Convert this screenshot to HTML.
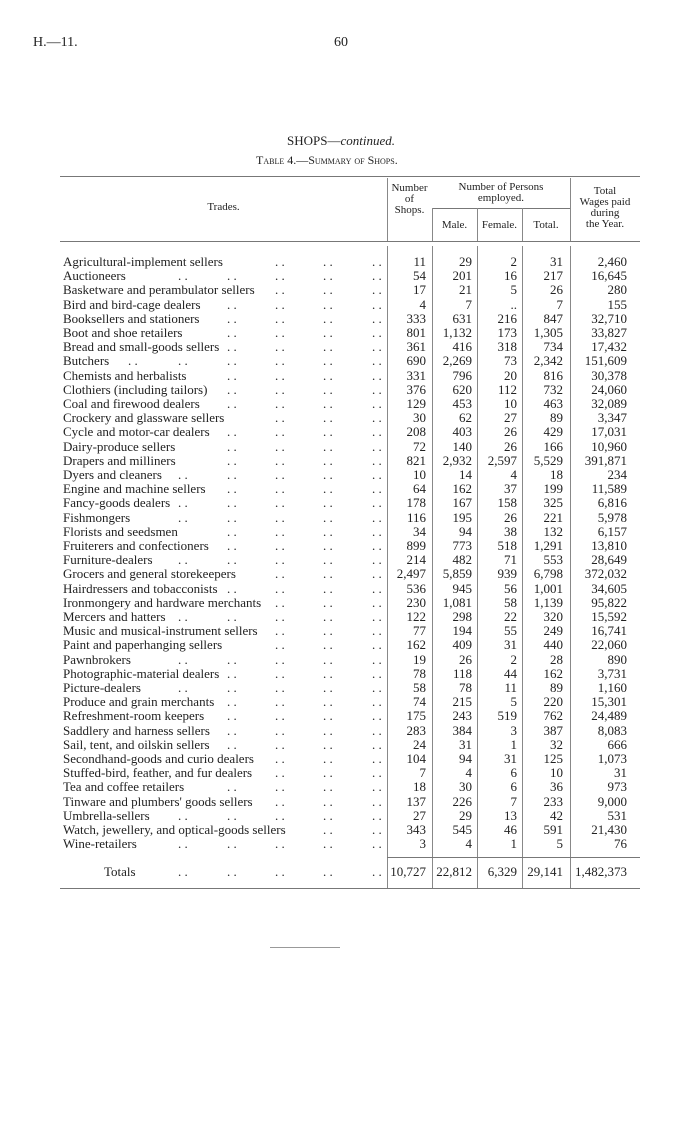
<!DOCTYPE html>
<html><head><meta charset="utf-8"><style>
body{margin:0;width:700px;height:1132px;background:#fff;position:relative;font-family:"Liberation Serif",serif;color:#222;overflow:hidden}
.a{position:absolute;white-space:nowrap;font-size:13px;line-height:14px}
.r{text-align:right}
.h{position:absolute;background:#777;height:1px}
.v{position:absolute;background:#888;width:1px}
.sc{font-variant:small-caps}
.sm{font-size:11px;line-height:11px;text-align:center;position:absolute}
</style></head><body>
<div class="a" style="left:33px;top:36px;font-size:14px">H.—11.</div>
<div class="a" style="left:334px;top:36px;font-size:14px">60</div>
<div class="a" style="left:287px;top:134px;font-size:13px">SHOPS—<i>continued.</i></div>
<div class="a sc" style="left:256px;top:153px;font-size:12px">Table 4.—Summary of Shops.</div>
<div class="h" style="left:60px;top:176px;width:580px"></div>
<div class="h" style="left:432px;top:208px;width:138px"></div>
<div class="h" style="left:60px;top:241px;width:580px"></div>
<div class="sm" style="left:60px;top:202px;width:327px">Trades.</div>
<div class="sm" style="left:387px;top:183px;width:45px">Number<br>of<br>Shops.</div>
<div class="sm" style="left:432px;top:182px;width:138px">Number of Persons<br>employed.</div>
<div class="sm" style="left:432px;top:220px;width:45px">Male.</div>
<div class="sm" style="left:477px;top:220px;width:45px">Female.</div>
<div class="sm" style="left:522px;top:220px;width:48px">Total.</div>
<div class="sm" style="left:570px;top:186px;width:70px">Total<br>Wages paid<br>during<br>the Year.</div>
<div id="t"></div>
<div class="h" style="left:387px;top:857px;width:253px"></div>
<div class="h" style="left:60px;top:888px;width:580px"></div>
<div class="h" style="left:270px;top:947px;width:70px;background:#999"></div>
<script>
var d=[["Agricultural-implement sellers","11","29","2","31","2,460"],["Auctioneers","54","201","16","217","16,645"],["Basketware and perambulator sellers","17","21","5","26","280"],["Bird and bird-cage dealers","4","7","..","7","155"],["Booksellers and stationers","333","631","216","847","32,710"],["Boot and shoe retailers","801","1,132","173","1,305","33,827"],["Bread and small-goods sellers","361","416","318","734","17,432"],["Butchers","690","2,269","73","2,342","151,609"],["Chemists and herbalists","331","796","20","816","30,378"],["Clothiers (including tailors)","376","620","112","732","24,060"],["Coal and firewood dealers","129","453","10","463","32,089"],["Crockery and glassware sellers","30","62","27","89","3,347"],["Cycle and motor-car dealers","208","403","26","429","17,031"],["Dairy-produce sellers","72","140","26","166","10,960"],["Drapers and milliners","821","2,932","2,597","5,529","391,871"],["Dyers and cleaners","10","14","4","18","234"],["Engine and machine sellers","64","162","37","199","11,589"],["Fancy-goods dealers","178","167","158","325","6,816"],["Fishmongers","116","195","26","221","5,978"],["Florists and seedsmen","34","94","38","132","6,157"],["Fruiterers and confectioners","899","773","518","1,291","13,810"],["Furniture-dealers","214","482","71","553","28,649"],["Grocers and general storekeepers","2,497","5,859","939","6,798","372,032"],["Hairdressers and tobacconists","536","945","56","1,001","34,605"],["Ironmongery and hardware merchants","230","1,081","58","1,139","95,822"],["Mercers and hatters","122","298","22","320","15,592"],["Music and musical-instrument sellers","77","194","55","249","16,741"],["Paint and paperhanging sellers","162","409","31","440","22,060"],["Pawnbrokers","19","26","2","28","890"],["Photographic-material dealers","78","118","44","162","3,731"],["Picture-dealers","58","78","11","89","1,160"],["Produce and grain merchants","74","215","5","220","15,301"],["Refreshment-room keepers","175","243","519","762","24,489"],["Saddlery and harness sellers","283","384","3","387","8,083"],["Sail, tent, and oilskin sellers","24","31","1","32","666"],["Secondhand-goods and curio dealers","104","94","31","125","1,073"],["Stuffed-bird, feather, and fur dealers","7","4","6","10","31"],["Tea and coffee retailers","18","30","6","36","973"],["Tinware and plumbers' goods sellers","137","226","7","233","9,000"],["Umbrella-sellers","27","29","13","42","531"],["Watch, jewellery, and optical-goods sellers","343","545","46","591","21,430"],["Wine-retailers","3","4","1","5","76"]];
var t=document.getElementById('t'),h='';
var rx=[426,472,517,563,627],dots=[128,178,227,275,323,372];
function row(y,name,vals,left){
 h+='<div class="a" id="n'+Math.round(y)+'" style="left:'+left+'px;top:'+y+'px">'+name+'</div>';
 for(var i=0;i<5;i++)h+='<div class="a r" style="left:'+(rx[i]-60)+'px;width:60px;top:'+y+'px">'+vals[i]+'</div>';
}
for(var i=0;i<d.length;i++)row(255+i*14.2,d[i][0],d[i].slice(1),63);
row(865,"Totals",["10,727","22,812","6,329","29,141","1,482,373"],104);
t.innerHTML=h;
var els=t.querySelectorAll('[id^=n]'),add='';
els.forEach(function(e){var end=e.offsetLeft+e.offsetWidth;var y=e.style.top;
 dots.forEach(function(x){if(x>end+6)add+='<div class="a" style="left:'+x+'px;top:'+y+'">. .</div>';});});
t.innerHTML+=add;
var v='';
[[387,246,857],[432,246,857],[477,246,857],[522,246,857],[570,246,857],[387,178,241],[432,208,241],[477,208,241],[522,208,241],[570,178,241],[387,857,888],[432,857,888],[477,857,888],[522,857,888],[570,857,888]].forEach(function(a){v+='<div class="v" style="left:'+a[0]+'px;top:'+a[1]+'px;height:'+(a[2]-a[1])+'px"></div>';});
t.innerHTML+=v;
</script>
</body></html>
